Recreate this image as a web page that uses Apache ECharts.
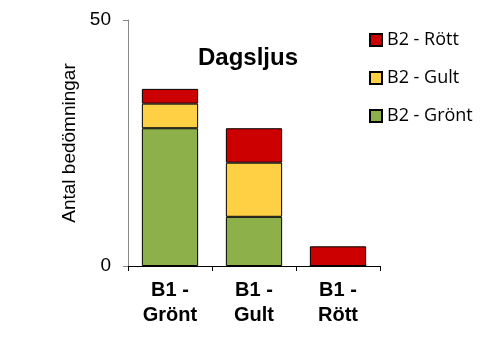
<!DOCTYPE html>
<html>
<head>
<meta charset="utf-8">
<script src="https://cdn.jsdelivr.net/npm/echarts@6/dist/echarts.min.js"></script>
<style>
  html, body { margin: 0; padding: 0; background: #fff; }
  #chart { width: 496px; height: 351px; }
</style>
</head>
<body>
<div id="chart"></div>
<script>
var categories = ['B1 -\nGrönt', 'B1 -\nGult', 'B1 -\nRött'];
var gronValues = [28, 10, 0];
var gultValues = [5, 11, 0];
var rottValues = [3, 7, 4];
var seriesNames = ['B2 - Grönt', 'B2 - Gult', 'B2 - Rött'];

function mkSeries(name, data, color) {
    return {
        name: name,
        type: 'bar',
        stack: 'tot',
        data: data,
        barCategoryGap: '33%',
        itemStyle: { color: color, borderColor: '#000', borderWidth: 1 }
    };
}

var chart = echarts.init(document.getElementById('chart'));
chart.setOption({
    animation: false,
    title: {
        text: 'Dagsljus',
        left: 243, top: 41, textAlign: 'center',
        textStyle: { fontFamily: 'Liberation Sans', fontSize: 24, fontWeight: 'bold', color: '#000' }
    },
    legend: {
        orient: 'vertical',
        left: 369, top: 31, padding: 0,
        icon: 'rect',
        itemWidth: 12, itemHeight: 12, itemGap: 20,
        data: [seriesNames[2], seriesNames[1], seriesNames[0]],
        textStyle: { fontFamily: 'Open Sans', fontSize: 18, lineHeight: 18, color: '#000' }
    },
    grid: { left: 128, right: 116, top: 20, bottom: 85 },
    xAxis: {
        type: 'category',
        data: categories,
        axisLine: { lineStyle: { color: '#000' } },
        axisTick: { show: true, length: 5, lineStyle: { color: '#000' } },
        axisLabel: {
            margin: 12, lineHeight: 25,
            fontFamily: 'Liberation Sans', fontSize: 20, fontWeight: 'bold', color: '#000'
        }
    },
    yAxis: {
        type: 'value',
        min: 0, max: 50, interval: 50,
        name: 'Antal bedömningar',
        nameLocation: 'middle', nameGap: 49,
        nameTextStyle: { fontFamily: 'Liberation Sans', fontSize: 19, color: '#000' },
        axisLine: { show: true, lineStyle: { color: '#888' } },
        axisTick: { show: true, length: 5, lineStyle: { color: '#888' } },
        splitLine: { show: false },
        axisLabel: { margin: 17, fontFamily: 'Liberation Sans', fontSize: 19, color: '#000' }
    },
    series: [
        mkSeries(seriesNames[0], gronValues, '#8DB04A'),
        mkSeries(seriesNames[1], gultValues, '#FFD044'),
        mkSeries(seriesNames[2], rottValues, '#CC0000')
    ]
});
</script>
</body>
</html>
